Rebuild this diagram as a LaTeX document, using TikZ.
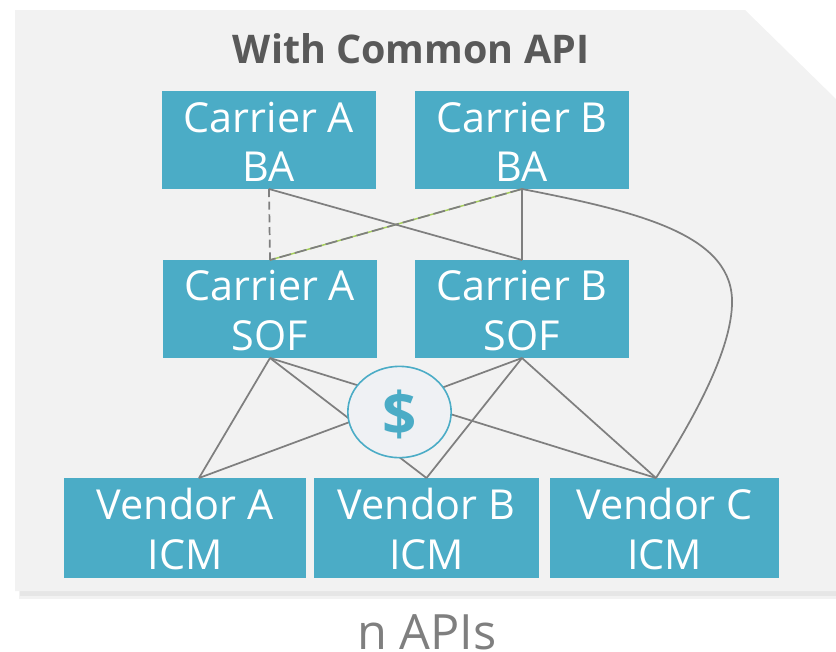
\documentclass[tikz,border=0pt]{standalone}
\usepackage{fontspec}
\setmainfont{Open Sans}
\usetikzlibrary{shapes.geometric}
\definecolor{teal}{HTML}{4BACC6}
\definecolor{panel}{HTML}{F2F2F2}
\definecolor{wire}{HTML}{7F7F7F}
\definecolor{shadowc}{HTML}{E6E6E6}
\definecolor{shadowd}{HTML}{F2F2F2}
\definecolor{titlec}{HTML}{595959}
\definecolor{greenw}{HTML}{A6D05A}
\definecolor{circfill}{HTML}{EFF1F4}
\tikzset{
  x=0.75pt,y=-0.75pt,
  tealbox/.style={fill=teal,text=white,inner sep=0pt,outer sep=0pt,font=\fontsize{31}{37}\selectfont,align=center,anchor=north west,text height=62pt},
  wireline/.style={draw=wire,line width=1.3pt},
}
\begin{document}
\begin{tikzpicture}
\useasboundingbox (0,0) rectangle (836,651);
\fill[shadowd] (19,590) rectangle (836,599);
\fill[shadowc] (20,590) rectangle (836,596);
\fill[panel] (15,10) -- (745,10) -- (836,99) -- (836,591) -- (15,591) -- cycle;
\node[font=\fontsize{29.6}{34}\selectfont\bfseries,text=titlec] (title) at (411,49) {With Common API};
\node[tealbox,minimum width=160.5pt,minimum height=73.5pt] (aba) at (162,91) {Carrier A\\BA};
\node[tealbox,minimum width=160.5pt,minimum height=73.5pt] (bba) at (415,91) {Carrier B\\BA};
\node[tealbox,minimum width=160.5pt,minimum height=73.5pt] (asof) at (163,260) {Carrier A\\SOF};
\node[tealbox,minimum width=160.5pt,minimum height=73.5pt] (bsof) at (415,260) {Carrier B\\SOF};
\node[tealbox,minimum width=181.5pt,minimum height=75pt] (va) at (64,478) {Vendor A\\ICM};
\node[tealbox,minimum width=168.75pt,minimum height=75pt] (vb) at (314,478) {Vendor B\\ICM};
\node[tealbox,minimum width=171.75pt,minimum height=75pt] (vc) at (550,478) {Vendor C\\ICM};
\coordinate (vatop) at (199,478);
\coordinate (vctop) at (656,478);
\draw[wireline,dash pattern=on 6pt off 3.5pt] (aba.south) -- (asof.north);
\draw[wireline] (aba.south) -- (bsof.north);
\draw[greenw,line width=1.1pt] (bba.south) -- (asof.north);
\draw[wireline,dash pattern=on 9pt off 3pt] (bba.south) -- (asof.north);
\draw[wireline] (bba.south) -- (bsof.north);
\draw[wireline] (bba.south) .. controls (640,212) and (735,235) .. (732,305) .. controls (730,360) and (680,440) .. (vctop);
\draw[wireline] (asof.south) -- (vatop);
\draw[wireline] (asof.south) -- (vb.north);
\draw[wireline] (asof.south) -- (vctop);
\draw[wireline] (bsof.south) -- (vatop);
\draw[wireline] (bsof.south) -- (vb.north);
\draw[wireline] (bsof.south) -- (vctop);
\node[ellipse,draw=teal,fill=circfill,line width=1.2pt,minimum width=77.5pt,minimum height=68.5pt,inner sep=0pt,text=teal,font=\fontsize{45}{50}\selectfont\bfseries] (dollar) at (399.5,412) {\raisebox{-17.5pt}[0.5em][0.5em]{\$}};
\node[font=\fontsize{36.5}{40}\selectfont,text=wire,anchor=base,inner sep=0pt] (napis) at (427,649) {n APIs};
\end{tikzpicture}
\end{document}
